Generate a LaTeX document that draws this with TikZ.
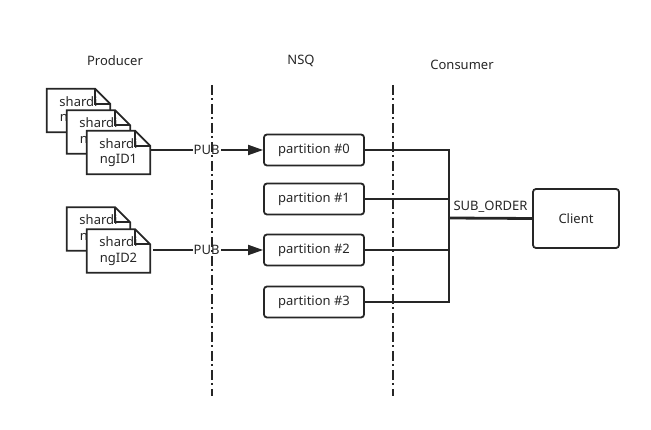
\documentclass[tikz,border=0pt]{standalone}
\usepackage{fontspec}
\setmainfont{Noto Sans}
\usetikzlibrary{arrows.meta,calc,positioning}

\begin{document}
\begin{tikzpicture}[x=1pt, y=-1pt, font=\fontsize{13}{15.5}\selectfont,
          doc/.style = {align=center, fill=white, inner sep=0pt, text=black!85,
            minimum width=63pt, minimum height=43pt},
          fold/.style = {draw=black!85, line width=1.8pt},
          part/.style = {draw=black!85, line width=1.8pt, rounded corners=3pt, text=black!85,
            minimum width=100pt, minimum height=31pt},
          client/.style = {part, minimum width=86pt, minimum height=59pt},
          link/.style = {draw=black!85, line width=1.8pt},
          pub/.style = {link, -{Triangle[length=15pt,width=10pt]}},
          lane/.style = {draw=black!85, line width=2pt, dash pattern=on 10pt off 3pt on 2pt off 4pt},
          lbl/.style = {fill=white, inner sep=1pt, text=black!85}]
        \useasboundingbox (0,0) rectangle (651,430);

        % column titles
        \node[text=black!85] (prod) at (115,61) {Producer};
        \node[text=black!85] (nsq) at (301,61) {NSQ};
        \node[text=black!85] (cons) at (462,65) {Consumer};

        % shard documents
        \foreach \n/\x/\y/\t in {d1/78.5/110.5/1, d2/98.5/132/1, d3/118.5/152.5/1,
                                 d4/98.5/229/2, d5/118.5/251/2} {
            \node[doc] (\n) at (\x,\y) {shardi\\ngID\t};
            \draw[fold] (\n.north west) -- ($(\n.north east)+(-15,0)$)
                -- ($(\n.north east)+(0,15)$) -- (\n.south east) -- (\n.south west) -- cycle;
            \draw[fold] ($(\n.north east)+(-15,0)$) |- ($(\n.north east)+(0,15)$);
        }

        % partitions
        \node[part] (p0) at (314,150) {partition \#0};
        \node[part] (p1) at (314,199) {partition \#1};
        \node[part] (p2) at (314,250) {partition \#2};
        \node[part] (p3) at (314,302) {partition \#3};

        \node[client] (client) at (576,218.5) {Client};
        \coordinate (bus) at (449,218);

        % publish
        \draw[pub] (d3.east |- p0.west) -- node[lbl] {PUB} (p0.west);
        \draw[pub, shorten <=3pt] (d5.east |- p2.west) -- node[lbl] {PUB} (p2.west);

        % subscribe
        \foreach \p in {p0,p1,p2,p3}
            \draw[link] (\p.east) -| (bus);
        \draw[link, line width=2.8pt] (bus) -- node[above=1pt, text=black!85] {SUB\_ORDER} (client.west);

        % lanes
        \draw[lane] (212,85) -- (212,396);
        \draw[lane] (393,85) -- (393,396);
\end{tikzpicture}
\end{document}
